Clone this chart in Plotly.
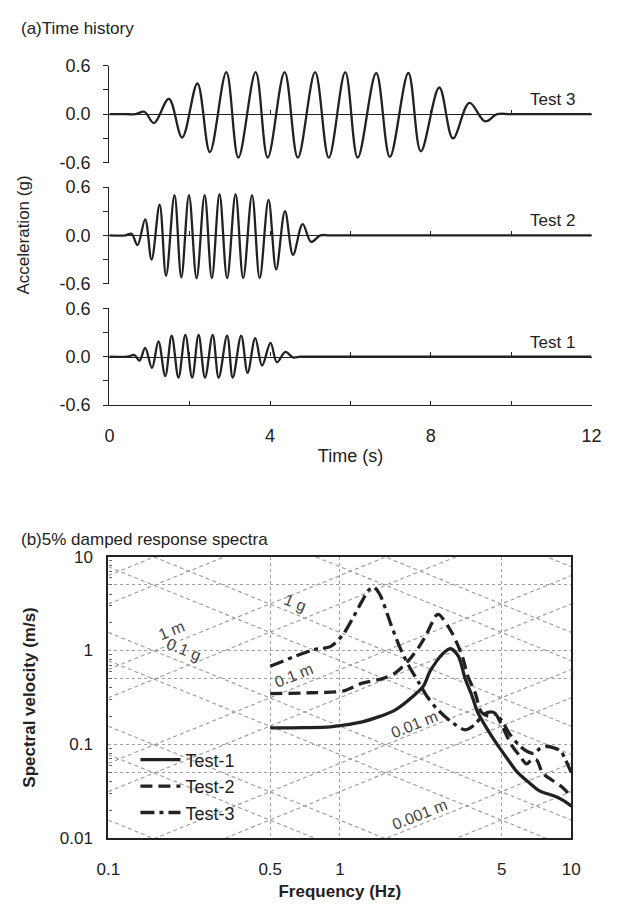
import math
import plotly.graph_objects as go

W, H = 617, 906
def PX(x): return x / W
def PY(y): return 1 - y / H

FONT = "Liberation Sans, Arial, sans-serif"
INK = "#222222"

# ---------------- (a) time histories: peaks / troughs ----------------
test3_t = [0, 0.4, 0.65, 0.87, 1.11, 1.48, 1.81, 2.19, 2.50, 2.91, 3.21, 3.64, 3.94, 4.36, 4.69,
           5.12, 5.46, 5.87, 6.18, 6.64, 6.98, 7.44, 7.75, 8.21, 8.55, 8.96, 9.35, 9.65, 10.0, 12]
test3_a = [0, 0, 0, 0.03, -0.11, 0.19, -0.29, 0.38, -0.47, 0.52, -0.54, 0.52, -0.54, 0.52, -0.54,
           0.52, -0.54, 0.52, -0.54, 0.51, -0.53, 0.51, -0.46, 0.33, -0.30, 0.14, -0.09, 0, 0, 0]

test2_t = [0, 0.4, 0.55, 0.70, 0.89, 1.05, 1.25, 1.41, 1.62, 1.79, 1.98, 2.17, 2.37, 2.55, 2.74,
           2.93, 3.14, 3.33, 3.55, 3.74, 3.96, 4.15, 4.37, 4.57, 4.81, 5.02, 5.25, 5.5, 12]
test2_a = [0, 0, 0.02, -0.12, 0.20, -0.30, 0.38, -0.50, 0.50, -0.52, 0.50, -0.53, 0.50, -0.53, 0.51,
           -0.53, 0.51, -0.53, 0.50, -0.53, 0.44, -0.42, 0.30, -0.24, 0.14, -0.08, 0, 0, 0]

test1_t = [0, 0.45, 0.62, 0.75, 0.89, 1.06, 1.22, 1.39, 1.55, 1.72, 1.89, 2.06, 2.22, 2.38, 2.57,
           2.72, 2.93, 3.07, 3.28, 3.44, 3.63, 3.80, 4.01, 4.17, 4.38, 4.57, 4.75, 5.0, 12]
test1_a = [0, 0, 0.02, -0.05, 0.11, -0.14, 0.19, -0.24, 0.26, -0.26, 0.27, -0.26, 0.27, -0.26, 0.27,
           -0.26, 0.26, -0.26, 0.26, -0.20, 0.23, -0.11, 0.17, -0.07, 0.06, -0.01, 0, 0, 0]

time_ticks = [0, 2, 4, 6, 8, 10, 12]
time_ticktext = ["0", "", "4", "", "8", "", "12"]
acc_ticks = [-0.6, -0.3, 0.0, 0.3, 0.6]
acc_ticktext = ["-0.6", "", "0.0", "", "0.6"]
panel_names = ["Test 3", "Test 2", "Test 1"]

# ---------------- (b) response spectra ----------------
sp1_f = [0.5, 0.7, 0.91, 1.25, 1.5, 1.73, 2.09, 2.3, 2.45, 2.79, 3.01, 3.25, 3.48, 3.72, 3.94,
         4.3, 4.78, 5.3, 5.79, 6.5, 7.29, 8.5, 9.3, 10]
sp1_v = [0.15, 0.151, 0.154, 0.174, 0.2, 0.232, 0.332, 0.42, 0.6, 0.93, 1.05, 0.87, 0.5, 0.33, 0.22,
         0.15, 0.1, 0.07, 0.052, 0.04, 0.032, 0.028, 0.025, 0.022]

sp2_f = [0.5, 0.75, 1.03, 1.25, 1.52, 1.73, 1.97, 2.2, 2.37, 2.61, 2.68, 2.8, 3.07, 3.38, 3.57,
         3.84, 4.09, 4.4, 4.7, 5.0, 5.5, 6.0, 6.4, 6.8, 7.1, 7.5, 8.2, 9.0, 10]
sp2_v = [0.348, 0.355, 0.37, 0.45, 0.5, 0.575, 0.77, 1.1, 1.5, 2.37, 2.42, 2.15, 1.5, 0.87, 0.535,
         0.356, 0.22, 0.2, 0.21, 0.16, 0.1, 0.075, 0.062, 0.07, 0.068, 0.05, 0.042, 0.036, 0.028]

sp3_f = [0.5, 0.77, 0.91, 1.03, 1.13, 1.25, 1.33, 1.4, 1.49, 1.66, 1.81, 1.99, 2.2, 2.37, 2.61,
         3.07, 3.48, 3.8, 4.2, 4.6, 5.0, 5.4, 5.9, 6.4, 6.9, 7.3, 7.8, 8.4, 9.0, 9.4, 10]
sp3_v = [0.68, 1.02, 1.1, 1.47, 2.15, 3.4, 4.4, 4.75, 3.93, 1.91, 1.1, 0.68, 0.45, 0.33, 0.243,
         0.17, 0.143, 0.16, 0.21, 0.22, 0.18, 0.13, 0.1, 0.085, 0.08, 0.09, 0.095, 0.092, 0.085, 0.07, 0.05]

spectra = [("Test-1", sp1_f, sp1_v, "solid"),
           ("Test-2", sp2_f, sp2_v, "12px,6px"),
           ("Test-3", sp3_f, sp3_v, "14px,5px,4px,5px")]

# tripartite reference lines
disp_lines_m = [0.0005, 0.001, 0.005, 0.01, 0.05, 0.1, 0.5, 1, 5, 10]
acc_lines_g = [0.001, 0.005, 0.01, 0.05, 0.1, 0.5, 1, 5, 10, 50]
f_ends = [0.1, 10]
G = 9.81

freq_ticks = [0.1, 0.5, 1, 5, 10]
freq_ticktext = ["0.1", "0.5", "1", "5", "10"]
sv_ticks = [0.01, 0.05, 0.1, 0.5, 1, 5, 10]
sv_ticktext = ["0.01", "", "0.1", "", "1", "", "10"]
sv_minor = [k * 10.0 ** e for e in (-2, -1, 0) for k in range(2, 10)]

# ---------------- layout geometry (pixels) ----------------
TX0, TX1 = 101, 601
panels_px = [(57, 156), (181, 280), (305, 404)]
BX0, BX1 = 100, 580
BY0, BY1 = 559, 847

fig = go.Figure()
layout = dict(
    width=W, height=H, margin=dict(l=0, r=0, t=0, b=0),
    paper_bgcolor="white", plot_bgcolor="white",
    font=dict(family=FONT, size=17, color=INK),
    showlegend=True,
)

series = [(test3_t, test3_a), (test2_t, test2_a), (test1_t, test1_a)]
for i, ((t, a), (y0, y1)) in enumerate(zip(series, panels_px)):
    n = i + 1
    xa = "x" if n == 1 else f"x{n}"
    ya = "y" if n == 1 else f"y{n}"
    xkey = "xaxis" if n == 1 else f"xaxis{n}"
    ykey = "yaxis" if n == 1 else f"yaxis{n}"
    dom_y = [PY(y1), PY(y0)]
    mid = (dom_y[0] + dom_y[1]) / 2
    fig.add_trace(go.Scatter(x=t, y=a, mode="lines", xaxis=xa, yaxis=ya,
                             line=dict(color="#222222", width=2.3, shape="spline", smoothing=1.0),
                             showlegend=False, hoverinfo="skip"))
    layout[ykey] = dict(domain=dom_y, anchor=xa, range=[-0.6, 0.6], tickvals=acc_ticks,
                        ticktext=acc_ticktext, ticks="outside", ticklen=5, tickcolor=INK,
                        showline=True, linecolor=INK, linewidth=1.4, showgrid=False,
                        zeroline=False, ticklabelstandoff=9, tickfont=dict(size=18))
    zero_axis = dict(domain=[PX(TX0), PX(TX1)], range=[0, 12], anchor="free", position=mid,
                     tickvals=time_ticks, ticks="inside", ticklen=4, tickcolor=INK,
                     showticklabels=False, showline=True, linecolor=INK, linewidth=1.4,
                     showgrid=False, zeroline=False)
    if n < 3:
        layout[xkey] = zero_axis
    else:
        layout[xkey] = dict(domain=[PX(TX0), PX(TX1)], range=[0, 12], anchor=ya,
                            tickvals=time_ticks, ticktext=time_ticktext, ticks="inside",
                            ticklen=4, tickcolor=INK, showline=True, linecolor=INK,
                            linewidth=1.4, showgrid=False, zeroline=False,
                            ticklabelstandoff=14, tickfont=dict(size=18),
                            title=dict(text="Time (s)", font=dict(size=18), standoff=4))
        zero_axis["overlaying"] = "x3"
        layout["xaxis5"] = zero_axis
        fig.add_trace(go.Scatter(x=[0], y=[0], xaxis="x5", yaxis="y3", mode="markers",
                                 marker=dict(opacity=0), showlegend=False, hoverinfo="skip"))

# ---------------- bottom: spectra ----------------
grid_col = "#9a9a9a"
for D in disp_lines_m:
    fig.add_trace(go.Scatter(x=f_ends, y=[2 * math.pi * f * D for f in f_ends], mode="lines",
                             xaxis="x4", yaxis="y4", showlegend=False, hoverinfo="skip",
                             line=dict(color=grid_col, width=1.1, dash="4px,3px")))
for A in acc_lines_g:
    fig.add_trace(go.Scatter(x=f_ends, y=[A * G / (2 * math.pi * f) for f in f_ends], mode="lines",
                             xaxis="x4", yaxis="y4", showlegend=False, hoverinfo="skip",
                             line=dict(color=grid_col, width=1.1, dash="4px,3px")))

for name, f, v, dash in spectra:
    fig.add_trace(go.Scatter(x=f, y=v, mode="lines", name=name, xaxis="x4", yaxis="y4",
                             line=dict(color="#222222", width=3.3, dash=dash, shape="spline",
                                       smoothing=0.8)))

layout["xaxis4"] = dict(domain=[PX(BX0), PX(BX1)], anchor="y4", type="log", range=[-1, 1],
                        tickvals=freq_ticks, ticktext=freq_ticktext, ticks="",
                        showline=True, mirror=True, linecolor=INK, linewidth=2.2,
                        showgrid=True, gridcolor="#a0a0a0", griddash="dot", gridwidth=1,
                        zeroline=False, ticklabelstandoff=14, tickfont=dict(size=17),
                        title=dict(text="<b>Frequency (Hz)</b>", font=dict(size=17), standoff=7))
layout["yaxis4"] = dict(domain=[PY(BY1), PY(BY0)], anchor="x4", type="log", range=[-2, 1],
                        tickvals=sv_ticks, ticktext=sv_ticktext, ticks="",
                        showline=True, mirror=True, linecolor=INK, linewidth=2.2,
                        showgrid=True, gridcolor="#a0a0a0", griddash="dot", gridwidth=1,
                        zeroline=False, ticklabelstandoff=10, tickfont=dict(size=17),
                        minor=dict(tickmode="array", tickvals=sv_minor, ticks="inside",
                                   ticklen=3, tickcolor="#666", showgrid=False),
                        title=dict(text="<b>Spectral velocity (m/s)</b>", font=dict(size=17),
                                   standoff=20))

layout["legend"] = dict(x=PX(128), y=PY(748), xanchor="left", yanchor="top",
                        bgcolor="rgba(0,0,0,0)", font=dict(size=18), tracegroupgap=0,
                        itemwidth=40)

ann = []
def add_text(text, cx, cy, size=17, angle=0, color=INK, xanchor="center", yanchor="middle"):
    ann.append(dict(text=text, x=PX(cx), y=PY(cy), xref="paper", yref="paper",
                    xanchor=xanchor, yanchor=yanchor, textangle=angle, showarrow=False,
                    font=dict(size=size, color=color)))

add_text("(a)Time history", 7, 19, xanchor="left")
add_text("(b)5% damped response spectra", 7, 541, xanchor="left")
add_text("Acceleration (g)", 12, 230, angle=-90)
for name, (y0, y1) in zip(panel_names, panels_px):
    add_text(name, 586, (y0 + y1) / 2 - 3, xanchor="right", yanchor="bottom")

ang = math.degrees(math.atan(96 / 240))
for txt, cx, cy, a in [("1 g", 293, 606, ang), ("0.1 g", 178, 654, ang), ("1 m", 165, 634, -ang),
                       ("0.1 m", 292, 681, -ang), ("0.01 m", 417, 731, -ang),
                       ("0.001 m", 423, 823, -ang)]:
    add_text(txt, cx, cy, size=16, angle=a, color="#444444")
layout["annotations"] = ann

fig.update_layout(**layout)
fig.write_html("out.html")
